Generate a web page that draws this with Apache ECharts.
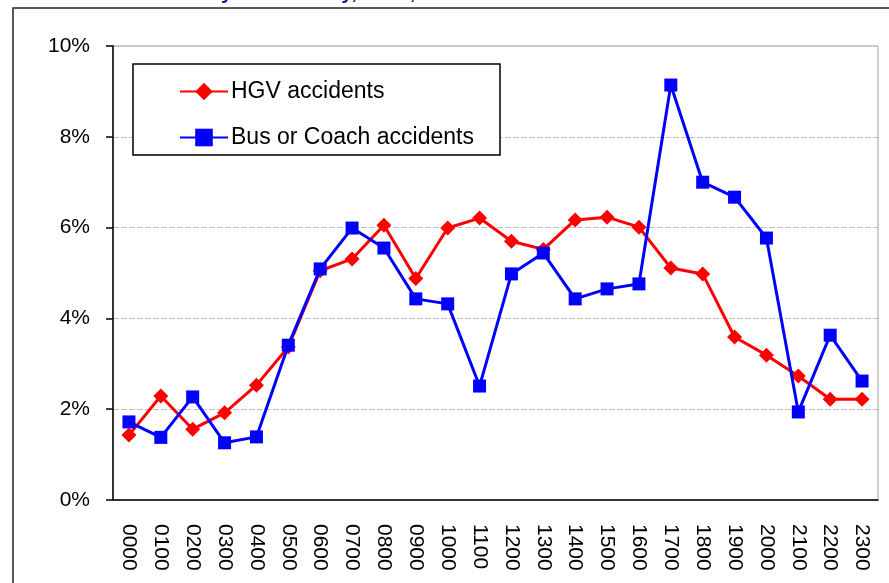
<!DOCTYPE html>
<html>
<head>
<meta charset="utf-8">
<script src="https://cdn.jsdelivr.net/npm/echarts@6/dist/echarts.min.js"></script>
<style>
  html, body { margin: 0; padding: 0; background: #fff; }
  #chart { width: 889px; height: 583px; }
</style>
</head>
<body>
<div id="chart"></div>
<script>
// hours of day
const hours = ["0000", "0100", "0200", "0300", "0400", "0500", "0600", "0700",
  "0800", "0900", "1000", "1100", "1200", "1300", "1400", "1500",
  "1600", "1700", "1800", "1900", "2000", "2100", "2200", "2300"];

// percentage of accidents per hour
const hgv = [1.43, 2.29, 1.56, 1.92, 2.53, 3.37, 5.05, 5.31, 6.05, 4.88, 5.99, 6.21,
  5.70, 5.52, 6.17, 6.23, 6.01, 5.11, 4.98, 3.59, 3.19, 2.73, 2.22, 2.22];
const bus = [1.72, 1.38, 2.27, 1.26, 1.39, 3.41, 5.09, 5.99, 5.55, 4.43, 4.32, 2.51,
  4.98, 5.44, 4.43, 4.65, 4.76, 9.14, 7.00, 6.67, 5.77, 1.94, 3.63, 2.62];

const yTicks = [0, 2, 4, 6, 8, 10];

const font = "'Liberation Sans', Arial, sans-serif";
const chart = echarts.init(document.getElementById("chart"));

const option = {
  animation: false,
  title: {
    text: "Accidents by hour of day, 2008, GB",
    left: 102,
    top: -17,
    padding: 0,
    textStyle: { color: "#1a1a90", fontWeight: "bold", fontSize: 21, fontFamily: font }
  },
  graphic: [
    {
      type: "rect",
      z: -10,
      shape: { x: 13, y: 8, width: 1000, height: 1000 },
      style: { fill: "#fff", stroke: "#222", lineWidth: 1.5 }
    },
    {
      type: "rect",
      z: 1,
      shape: { x: 133, y: 64, width: 367, height: 91 },
      style: { fill: "#fff", stroke: "#000", lineWidth: 1.5 }
    }
  ],
  legend: {
    orient: "vertical",
    left: 174,
    top: 75,
    itemWidth: 48,
    itemHeight: 22,
    itemGap: 23,
    textStyle: { fontSize: 23, color: "#000", fontFamily: font, padding: [0, 0, 0, -2] },
    data: ["HGV accidents", "Bus or Coach accidents"]
  },
  grid: {
    left: 113,
    right: 11,
    top: 46,
    bottom: 83,
    show: true,
    borderColor: "#a0a0a0",
    borderWidth: 1
  },
  xAxis: {
    type: "category",
    data: hours,
    boundaryGap: true,
    axisLine: { lineStyle: { color: "#000", width: 1.5 } },
    axisTick: { length: 7, lineStyle: { color: "#000", width: 1.5 } },
    axisLabel: {
      rotate: -90,
      margin: 24,
      interval: 0,
      fontSize: 21,
      color: "#000",
      fontFamily: font
    }
  },
  yAxis: {
    type: "value",
    min: yTicks[0],
    max: yTicks[yTicks.length - 1],
    interval: 2,
    axisLine: { show: true, lineStyle: { color: "#000", width: 1.5 } },
    axisTick: { show: true, length: 7, lineStyle: { color: "#000", width: 1.5 } },
    axisLabel: {
      formatter: "{value}%",
      margin: 23,
      fontSize: 21,
      color: "#000",
      fontFamily: font
    },
    splitLine: { lineStyle: { color: "#c0c0c0", type: [6, 2], width: 1 } }
  },
  series: [
    {
      name: "HGV accidents",
      type: "line",
      data: hgv,
      symbol: "diamond",
      symbolSize: 15,
      color: "#ff0000",
      lineStyle: { width: 3, color: "#ff0000" },
      itemStyle: { color: "#ff0000" },
      z: 3
    },
    {
      name: "Bus or Coach accidents",
      type: "line",
      data: bus,
      symbol: "rect",
      symbolSize: 13,
      color: "#0000ff",
      lineStyle: { width: 3, color: "#0000ff" },
      itemStyle: { color: "#0000ff" },
      z: 4
    }
  ]
};

chart.setOption(option);
</script>
</body>
</html>
